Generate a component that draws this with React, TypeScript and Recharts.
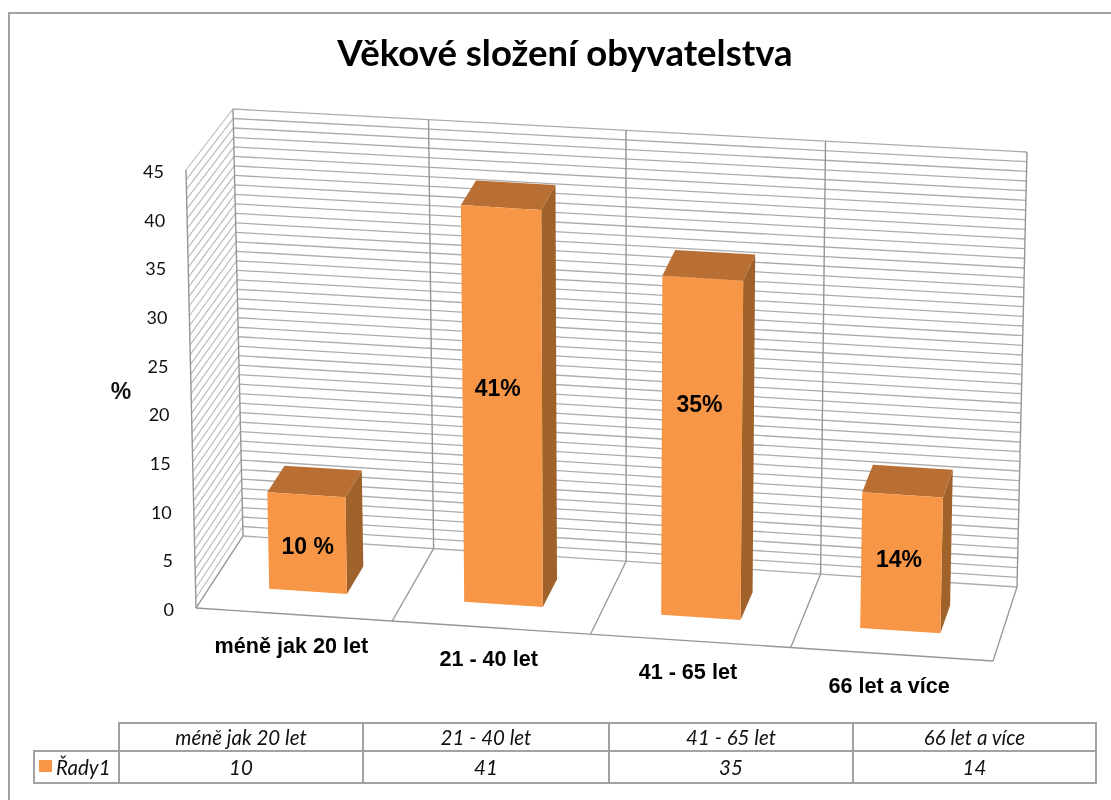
import React from "react";
import { ComposedChart, Bar, XAxis, YAxis, CartesianGrid, LabelList } from "recharts";

const categories = ["méně jak 20 let", "21 - 40 let", "41 - 65 let", "66 let a více"];
const values = [10, 41, 35, 14];
const valueLabels = ["10 %", "41%", "35%", "14%"];
const labelHeights = [4.7, 22.4, 22.0, 7.4];
const labelShifts = [2, -3, -1, -1];
const yTicks = [0, 5, 10, 15, 20, 25, 30, 35, 40, 45];
const gridValues = Array.from({ length: 46 }, (_, i) => i);
const seriesName = "Řady1";
const chartTitle = "Věkové složení obyvatelstva";

const data = categories.map((name, i) => ({ name, value: values[i] }));

const W = 1111;
const H = 800;
const PLOT = { left: 240, top: 109, width: 780, height: 430 };
const Y_MAX = 45;

type P = [number, number];
const BACK = { bl: [243, 536] as P, br: [1017, 587] as P, tl: [233, 109] as P, tr: [1027, 152] as P };
const FRONT = { bl: [196, 608] as P, br: [993, 661] as P, tl: [186, 170] as P, tr: [1003, 223] as P };
const BAR_FRONT = 0.68;
const BAR_BACK = 0.3;

const mix = (a: P, b: P, k: number): P => [a[0] + (b[0] - a[0]) * k, a[1] + (b[1] - a[1]) * k];
const warp = (s: number) => s - 0.02 * s * (1 - s);

// s: 0..1 along categories, t: 0..1 up the value axis, d: 0 back wall .. 1 front edge
function project(s: number, t: number, d: number): P {
  const w = warp(s);
  const back = mix(mix(BACK.bl, BACK.br, w), mix(BACK.tl, BACK.tr, w), t);
  const front = mix(mix(FRONT.bl, FRONT.br, w), mix(FRONT.tl, FRONT.tr, w), t);
  return mix(back, front, d);
}
const toS = (x: number) => (x - PLOT.left) / PLOT.width;
const toT = (y: number) => (PLOT.top + PLOT.height - y) / PLOT.height;
const poly = (pts: P[]) => pts.map((p) => p.map((n) => n.toFixed(1)).join(",")).join(" ");

const GRID = "#acacac";
const EDGE = "#969696";
const HATCH = "#bcbcbc";
const FRONT_FILL = "#F79646";
const TOP_FILL = "#B96F34";
const SIDE_FILL = "#A0622B";

function HorizontalLine(props: any) {
  const t = toT(props.y1);
  const a = project(0, t, 1);
  const b = project(0, t, 0);
  const c = project(1, t, 0);
  const isFloor = Math.abs(t) < 0.001;
  const f = project(1, 0, 1);
  return (
    <g key={props.key}>
      <line x1={a[0]} y1={a[1]} x2={b[0]} y2={b[1]} stroke={HATCH} strokeWidth={1.2} />
      <line x1={b[0]} y1={b[1]} x2={c[0]} y2={c[1]} stroke={GRID} strokeWidth={1.3} />
      {isFloor ? <line x1={a[0]} y1={a[1]} x2={f[0]} y2={f[1]} stroke={EDGE} strokeWidth={1.4} /> : null}
    </g>
  );
}

function VerticalLine(props: any) {
  const s = toS(props.x1);
  const a = project(s, 0, 1);
  const b = project(s, 0, 0);
  const c = project(s, 1, 0);
  const top = project(0, 1, 1);
  return (
    <g key={props.key}>
      <line x1={a[0]} y1={a[1]} x2={b[0]} y2={b[1]} stroke={EDGE} strokeWidth={1.3} />
      <line x1={b[0]} y1={b[1]} x2={c[0]} y2={c[1]} stroke={EDGE} strokeWidth={1.4} />
      {s < 0.01 ? (
        <line x1={a[0]} y1={a[1]} x2={top[0]} y2={top[1]} stroke={EDGE} strokeWidth={1.4} />
      ) : null}
    </g>
  );
}

function Bar3D(props: any) {
  const { x, y, width, height } = props;
  const s0 = toS(x);
  const s1 = toS(x + width);
  const t1 = toT(y);
  const t0 = toT(y + height);
  const p = project;
  return (
    <g>
      <polygon
        points={poly([p(s1, t0, BAR_FRONT), p(s1, t0, BAR_BACK), p(s1, t1, BAR_BACK), p(s1, t1, BAR_FRONT)])}
        fill={SIDE_FILL}
      />
      <polygon
        points={poly([p(s0, t1, BAR_FRONT), p(s0, t1, BAR_BACK), p(s1, t1, BAR_BACK), p(s1, t1, BAR_FRONT)])}
        fill={TOP_FILL}
      />
      <polygon
        points={poly([p(s0, t0, BAR_FRONT), p(s1, t0, BAR_FRONT), p(s1, t1, BAR_FRONT), p(s0, t1, BAR_FRONT)])}
        fill={FRONT_FILL}
      />
    </g>
  );
}

function BarValueLabel(props: any) {
  const { x, width, index } = props;
  const s = toS(x + width / 2);
  const [px, py] = project(s, labelHeights[index] / Y_MAX, BAR_FRONT);
  return (
    <text
      x={px - 1.5 + labelShifts[index]}
      y={py}
      textAnchor="middle"
      dominantBaseline="central"
      fontFamily="Liberation Sans"
      fontWeight={700}
      fontSize={23}
      fill="#000"
    >
      {valueLabels[index]}
    </text>
  );
}

function XTick(props: any) {
  const [px, py] = project(toS(props.x), 0, 1);
  return (
    <text
      x={px - 2.5}
      y={py + 31}
      textAnchor="middle"
      dominantBaseline="central"
      fontFamily="Liberation Sans"
      fontWeight={700}
      fontSize={21.6}
      fill="#000"
    >
      {props.payload.value}
    </text>
  );
}

function YTick(props: any) {
  const t = toT(props.y);
  const [px, py] = project(0, t, 1);
  return (
    <text
      x={px - 22}
      y={py + 1}
      textAnchor="end"
      dominantBaseline="central"
      fontFamily="Lato"
      fontSize={18}
      fill="#111"
    >
      {props.payload.value}
    </text>
  );
}

const TABLE_X = [118, 362, 608, 852, 1097];
const TABLE_Y = [722, 750, 782];
const LEGEND_X = 33;
const LINE = "2px solid #a2a2a2";
const cellBase: React.CSSProperties = {
  position: "absolute",
  boxSizing: "border-box",
  display: "flex",
  alignItems: "center",
  justifyContent: "center",
  fontFamily: "Lato",
  fontStyle: "italic",
  fontSize: 20.5,
  color: "#111",
  borderStyle: "solid",
  borderColor: "#a2a2a2",
  borderWidth: "2px 0 0 2px",
};

function DataTable() {
  return (
    <>
      {categories.map((c, i) => (
        <div
          key={c}
          style={{
            ...cellBase,
            left: TABLE_X[i],
            top: TABLE_Y[0],
            width: TABLE_X[i + 1] - TABLE_X[i],
            height: TABLE_Y[1] - TABLE_Y[0],
            borderRightWidth: i === 3 ? 2 : 0,
          }}
        >
          {c}
        </div>
      ))}
      <div
        style={{
          ...cellBase,
          left: LEGEND_X,
          top: TABLE_Y[1],
          width: TABLE_X[0] - LEGEND_X,
          height: TABLE_Y[2] - TABLE_Y[1] + 2,
          borderBottomWidth: 2,
          justifyContent: "flex-start",
          paddingLeft: 21,
        }}
      >
        <span
          style={{ position: "absolute", left: 4, top: 8, width: 13, height: 12, background: FRONT_FILL }}
        />
        {seriesName}
      </div>
      {values.map((v, i) => (
        <div
          key={categories[i]}
          style={{
            ...cellBase,
            left: TABLE_X[i],
            top: TABLE_Y[1],
            width: TABLE_X[i + 1] - TABLE_X[i],
            height: TABLE_Y[2] - TABLE_Y[1] + 2,
            borderBottomWidth: 2,
            borderRightWidth: i === 3 ? 2 : 0,
          }}
        >
          {v}
        </div>
      ))}
    </>
  );
}

export default function App() {
  return (
    <div
      style={{
        position: "absolute",
        left: 0,
        top: 0,
        width: W,
        height: H,
        overflow: "hidden",
        background: "#fff",
        filter: "blur(0.35px)",
      }}
    >
      <div
        style={{
          position: "absolute",
          left: 8,
          top: 12,
          width: W,
          height: H,
          borderLeft: LINE,
          borderTop: LINE,
        }}
      />
      <ComposedChart
        width={W}
        height={H}
        data={data}
        margin={{
          left: PLOT.left - 1,
          top: PLOT.top,
          right: W - PLOT.left - PLOT.width,
          bottom: H - PLOT.top - PLOT.height - 1,
        }}
        barCategoryGap="30%"
        style={{ position: "absolute", left: 0, top: 0 }}
      >
        <CartesianGrid
          horizontalValues={gridValues}
          horizontal={HorizontalLine as any}
          vertical={VerticalLine as any}
          verticalCoordinatesGenerator={({ offset }: any) =>
            [0, 1, 2, 3, 4].map((i) => offset.left + (i * offset.width) / categories.length)
          }
        />
        <XAxis dataKey="name" axisLine={false} tickLine={false} height={1} interval={0} tick={XTick as any} />
        <YAxis
          domain={[0, Y_MAX]}
          ticks={yTicks}
          interval={0}
          axisLine={false}
          tickLine={false}
          width={1}
          tick={YTick as any}
        />
        <Bar dataKey="value" shape={Bar3D as any} isAnimationActive={false}>
          <LabelList dataKey="value" content={BarValueLabel as any} />
        </Bar>
        <text x={565} y={52} textAnchor="middle" dominantBaseline="central" fontFamily="Lato" fontWeight={700} fontSize={36.5} fill="#000">
          {chartTitle}
        </text>
        <text x={121} y={391} textAnchor="middle" dominantBaseline="central" fontFamily="Liberation Sans" fontWeight={700} fontSize={23} fill="#111">
          %
        </text>
      </ComposedChart>
      <DataTable />
    </div>
  );
}
